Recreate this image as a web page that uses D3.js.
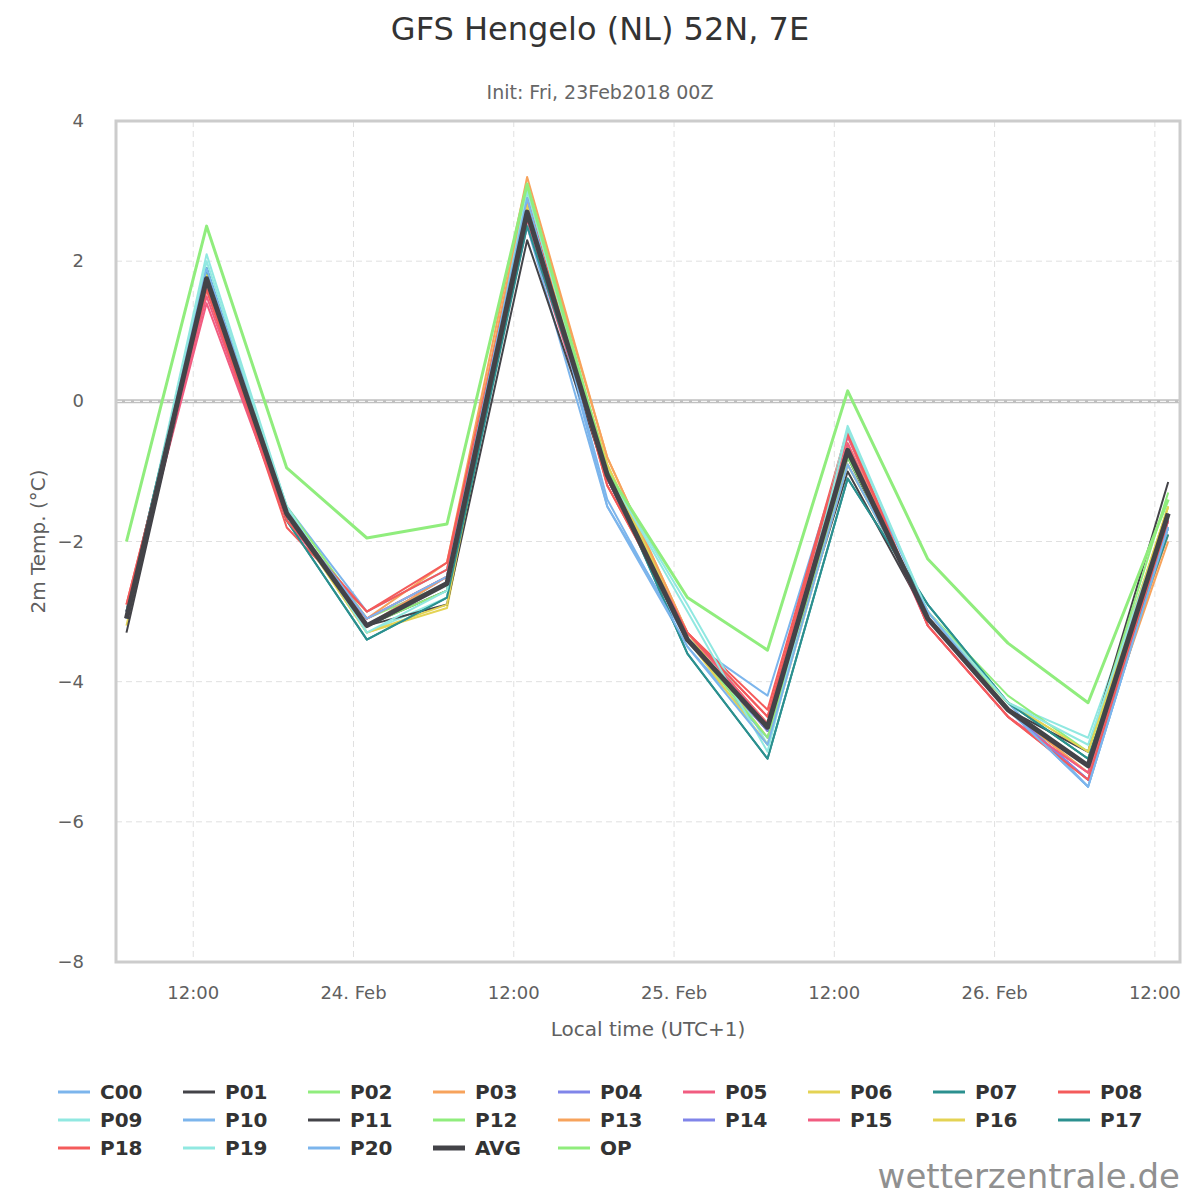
<!DOCTYPE html>
<html>
<head>
<script src="https://d3js.org/d3.v7.min.js"></script>
<style>
body { margin: 0; background: #fff; }
text { font-family: "DejaVu Sans", sans-serif; }
</style>
</head>
<body>
<svg width="1200" height="1200"></svg>
<script>
// times (local, UTC+1), every 6 h
const times = ["2018-02-23T07:00","2018-02-23T13:00","2018-02-23T19:00","2018-02-24T01:00","2018-02-24T07:00","2018-02-24T13:00","2018-02-24T19:00","2018-02-25T01:00","2018-02-25T07:00","2018-02-25T13:00","2018-02-25T19:00","2018-02-26T01:00","2018-02-26T07:00","2018-02-26T13:00"];
const seriesNames = ["C00","P01","P02","P03","P04","P05","P06","P07","P08","P09","P10","P11","P12","P13","P14","P15","P16","P17","P18","P19","P20","AVG","OP"];
const palette = ["#7cb5ec","#434348","#90ed7d","#f7a35c","#8085e9","#f15c80","#e4d354","#2b908f","#f45b5b","#91e8e1"];
const C00 = [-3.0,1.9,-1.5,-3.0,-2.4,2.9,-1.5,-3.4,-4.2,-0.5,-3.0,-4.3,-5.5,-1.8];
const P01 = [-3.1,1.7,-1.6,-3.2,-2.7,2.6,-1.1,-3.4,-4.6,-0.8,-3.1,-4.4,-5.2,-1.6];
const P02 = [-3.0,1.8,-1.5,-3.1,-2.6,2.8,-1.0,-3.3,-4.6,-0.6,-3.1,-4.3,-5.1,-1.5];
const P03 = [-3.1,1.6,-1.6,-3.1,-2.3,3.2,-0.8,-3.3,-4.6,-0.6,-3.1,-4.4,-5.3,-1.9];
const P04 = [-3.0,1.7,-1.6,-3.2,-2.5,2.7,-1.1,-3.4,-4.7,-0.7,-3.1,-4.4,-5.4,-1.7];
const P05 = [-3.0,1.4,-1.7,-3.1,-2.5,2.5,-1.1,-3.3,-4.5,-0.5,-3.2,-4.5,-5.3,-1.6];
const P06 = [-3.2,1.8,-1.6,-3.3,-2.95,2.8,-0.9,-3.3,-4.8,-0.9,-3.0,-4.3,-5.0,-1.5];
const P07 = [-3.0,1.9,-1.7,-3.4,-2.8,2.6,-1.0,-3.6,-5.1,-1.1,-2.9,-4.3,-5.1,-1.8];
const P08 = [-2.9,1.6,-1.8,-3.0,-2.3,2.9,-1.2,-3.3,-4.4,-0.4,-3.2,-4.5,-5.4,-1.7];
const P09 = [-3.1,2.1,-1.5,-3.3,-2.8,3.0,-1.0,-2.9,-4.9,-0.35,-3.0,-4.3,-4.8,-1.6];
const P10 = [-3.1,1.8,-1.6,-3.2,-2.6,2.5,-1.5,-3.5,-4.8,-0.9,-3.0,-4.4,-5.5,-1.8];
const P11 = [-3.3,1.7,-1.6,-3.2,-2.9,2.3,-1.1,-3.4,-4.7,-1.0,-3.1,-4.4,-5.0,-1.15];
const P12 = [-3.0,1.8,-1.6,-3.2,-2.7,3.0,-1.0,-3.4,-4.8,-0.8,-3.0,-4.2,-5.0,-1.3];
const P13 = [-3.1,1.7,-1.6,-3.2,-2.5,3.1,-0.8,-3.3,-4.6,-0.6,-3.1,-4.4,-5.3,-2.0];
const P14 = [-3.0,1.7,-1.6,-3.2,-2.6,2.7,-1.1,-3.4,-4.7,-0.7,-3.1,-4.4,-5.4,-1.7];
const P15 = [-3.0,1.5,-1.7,-3.1,-2.5,2.6,-1.1,-3.3,-4.6,-0.6,-3.2,-4.5,-5.3,-1.6];
const P16 = [-3.1,1.8,-1.6,-3.3,-2.9,2.8,-0.9,-3.4,-4.9,-0.9,-3.0,-4.3,-5.0,-1.5];
const P17 = [-3.0,1.9,-1.7,-3.4,-2.8,2.5,-1.0,-3.6,-5.1,-1.1,-2.9,-4.3,-5.1,-1.9];
const P18 = [-2.9,1.6,-1.7,-3.0,-2.4,2.9,-1.2,-3.3,-4.5,-0.45,-3.2,-4.5,-5.4,-1.7];
const P19 = [-3.1,2.0,-1.5,-3.3,-2.7,3.0,-1.0,-3.0,-5.0,-0.4,-3.0,-4.3,-4.9,-1.6];
const P20 = [-3.1,1.9,-1.6,-3.1,-2.5,2.9,-1.4,-3.5,-4.9,-0.9,-3.0,-4.4,-5.5,-1.8];
const AVG = [-3.1,1.75,-1.6,-3.2,-2.6,2.7,-1.05,-3.4,-4.65,-0.7,-3.1,-4.4,-5.2,-1.6];
const OP  = [-2.0,2.5,-0.95,-1.95,-1.75,3.1,-1.0,-2.8,-3.55,0.15,-2.25,-3.45,-4.3,-1.4];
const seriesValues = [C00,P01,P02,P03,P04,P05,P06,P07,P08,P09,P10,P11,P12,P13,P14,P15,P16,P17,P18,P19,P20,AVG,OP];
const yTicks = [4,2,0,-2,-4,-6,-8];

const parse = d3.timeParse("%Y-%m-%dT%H:%M");
const svg = d3.select("svg");
const L = 116, R = 1180, T = 121, B = 962;

const x = d3.scaleTime()
    .domain([parse("2018-02-23T06:13"), parse("2018-02-26T13:53")])
    .range([L, R]);
const y = d3.scaleLinear().domain([-8, 4]).range([B, T]);

// grid
const xTickDates = ["2018-02-23T12:00","2018-02-24T00:00","2018-02-24T12:00","2018-02-25T00:00","2018-02-25T12:00","2018-02-26T00:00","2018-02-26T12:00"].map(parse);
svg.append("g").selectAll("line").data(xTickDates).enter().append("line")
    .attr("x1", d => x(d)).attr("x2", d => x(d)).attr("y1", T).attr("y2", B)
    .attr("stroke", "#e0e0e0").attr("stroke-dasharray", "6,4");
svg.append("g").selectAll("line").data(yTicks).enter().append("line")
    .attr("x1", L).attr("x2", R).attr("y1", d => y(d)).attr("y2", d => y(d))
    .attr("stroke", "#e0e0e0").attr("stroke-dasharray", "6,4");

// zero line
svg.append("line").attr("x1", L).attr("x2", R).attr("y1", y(0)).attr("y2", y(0))
    .attr("stroke", "#c0c0c0").attr("stroke-width", 4);
svg.append("line").attr("x1", L).attr("x2", R).attr("y1", y(0)).attr("y2", y(0))
    .attr("stroke", "#fff").attr("stroke-width", 1).attr("stroke-dasharray", "6,3");

// lines
const line = d3.line().x((d, i) => x(parse(times[i]))).y(d => y(d));
const colorOf = i => i === 21 ? "#434348" : i === 22 ? "#90ed7d" : palette[i % 10];
const order = d3.range(seriesValues.length).filter(i => i !== 21).concat([21]);
svg.append("g").selectAll("path").data(order).enter().append("path")
    .attr("d", i => line(seriesValues[i]))
    .attr("fill", "none")
    .attr("stroke", i => colorOf(i))
    .attr("stroke-width", i => i === 21 ? 5 : i === 22 ? 3 : 2)
    .attr("stroke-linejoin", "round");

// frame
svg.append("rect").attr("x", L).attr("y", T).attr("width", R - L).attr("height", B - T)
    .attr("fill", "none").attr("stroke", "#cccccc").attr("stroke-width", 3);

// axes labels
svg.append("g").selectAll("text").data(xTickDates).enter().append("text")
    .attr("x", d => x(d)).attr("y", 999).attr("text-anchor", "middle")
    .attr("font-size", 18).attr("fill", "#606060")
    .text(d => d.getHours() === 0 ? d3.timeFormat("%-d. %b")(d) : "12:00");
svg.append("g").selectAll("text").data(yTicks).enter().append("text")
    .attr("x", 84).attr("y", d => y(d) + 6).attr("text-anchor", "end")
    .attr("font-size", 18).attr("fill", "#606060")
    .text(d => d < 0 ? "\u2212" + (-d) : d);

svg.append("text").attr("x", 648).attr("y", 1036).attr("text-anchor", "middle")
    .attr("font-size", 20).attr("fill", "#606060").text("Local time (UTC+1)");
svg.append("text").attr("transform", "translate(45," + y(-2) + ") rotate(-90)")
    .attr("text-anchor", "middle").attr("font-size", 20).attr("fill", "#606060").text("2m Temp. (°C)");

svg.append("text").attr("x", 600).attr("y", 40).attr("text-anchor", "middle")
    .attr("font-size", 32).attr("fill", "#333").text("GFS Hengelo (NL) 52N, 7E");
svg.append("text").attr("x", 600).attr("y", 99).attr("text-anchor", "middle")
    .attr("font-size", 19).attr("fill", "#666").text("Init: Fri, 23Feb2018 00Z");

// legend
const lg = svg.append("g").selectAll("g").data(seriesNames).enter().append("g")
    .attr("transform", (d, i) => "translate(" + (58 + (i % 9) * 125) + "," + (1092 + Math.floor(i / 9) * 28) + ")");
lg.append("line").attr("x1", 0).attr("x2", 32).attr("y1", 0).attr("y2", 0)
    .attr("stroke", (d, i) => colorOf(i)).attr("stroke-width", (d, i) => i === 21 ? 5 : 3);
lg.append("text").attr("x", 42).attr("y", 7).attr("font-size", 20).attr("font-weight", "bold")
    .attr("fill", "#333").text(d => d);

svg.append("text").attr("x", 1180).attr("y", 1188).attr("text-anchor", "end")
    .attr("font-size", 34).attr("fill", "#909090").text("wetterzentrale.de");
</script>
</body>
</html>
